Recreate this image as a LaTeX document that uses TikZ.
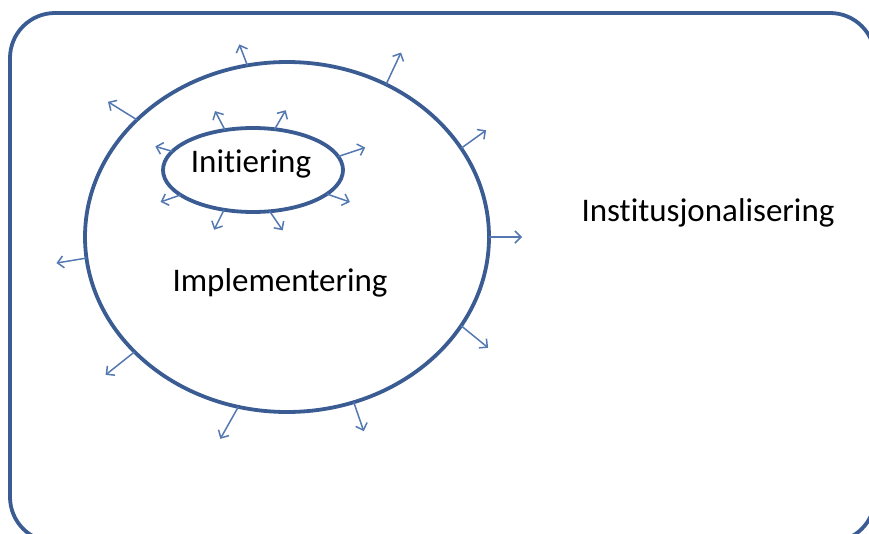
\documentclass[tikz,border=0pt]{standalone}
\usepackage{fontspec}
\setmainfont{Carlito}[Ligatures=NoCommon]
\usetikzlibrary{arrows.meta,shapes.geometric}
\definecolor{frame}{HTML}{3A5C93}
\definecolor{arrowc}{HTML}{5479B2}
\tikzset{
  outline/.style={draw=frame,line width=3.8pt},
  oval/.style={outline,ellipse,inner sep=0pt,outer sep=0pt},
  arr/.style={draw=arrowc,line width=1.5pt,-{Straight Barb[length=6pt,width=12pt]}},
  lbl/.style={font=\fontsize{33}{40}\selectfont,text=black,inner sep=0pt}
}
\begin{document}
\begin{tikzpicture}[x=1pt,y=-1pt]
\clip (0,0) rectangle (869,533);
\fill[white] (0,0) rectangle (869,533);
\draw[outline,rounded corners=45pt] (10,13) rectangle (875,542);
\node[oval,minimum width=404pt,minimum height=350pt] (big) at (287,237) {};
\node[oval,minimum width=180pt,minimum height=84pt] (small) at (253,170) {};
\node[lbl] (tinit) at (251,164) {Initiering};
\node[lbl] (timpl) at (280,283) {Implementering};
\node[lbl] (tinst) at (708,213) {Institusjonalisering};
% big arrows
\draw[arr] (big.103) -- ++(-8,-21);
\draw[arr] (big.57) -- ++(15,-32);
\draw[arr] (big.27.5) -- ++(25,-18);
\draw[arr] (big.0.5) -- ++(33,0);
\draw[arr] (big.-27) -- ++(27,22);
\draw[arr] (big.-68.6) -- ++(10,29);
\draw[arr] (big.-106.7) -- ++(-18,32);
\draw[arr] (big.217.5) -- ++(-29,23);
\draw[arr] (big.186) -- ++(-30,5);
\draw[arr] (big.142) -- ++(-29,-18);
% small arrows
\draw[arr] (small.125.8) -- ++(-10,-19);
\draw[arr] (small.62.9) -- ++(11,-19);
\draw[arr] (small.9) -- ++(27,-9);
\draw[arr] (small.-18) -- ++(23,8);
\draw[arr] (small.-68) -- ++(13,19);
\draw[arr] (small.-126) -- ++(-10,20);
\draw[arr] (small.199) -- ++(-20,7);
\draw[arr] (small.167.5) -- ++(-17,-5);
\end{tikzpicture}
\end{document}
